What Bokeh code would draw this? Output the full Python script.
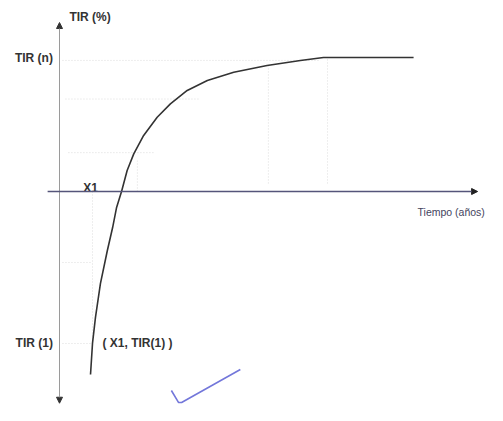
from bokeh.plotting import figure
from bokeh.models import Range1d, Arrow, NormalHead
from bokeh.core.properties import value
from bokeh.embed import file_html
from bokeh.resources import INLINE

# ---- data (years on x, TIR % on y; axes cross at 0) ----
X1 = 1.0
TIR_N = 10.0
TIR_1 = -11.34

curve_x = [0.94, 1.00, 1.09, 1.24, 1.45, 1.61, 1.73, 1.88, 2.05, 2.25, 2.55, 2.96, 3.36,
           3.87, 4.48, 5.28, 6.29, 7.30, 8.00, 10.73]
curve_y = [-13.66, -11.34, -9.40, -6.87, -4.40, -2.69, -1.19, 0.0, 1.57, 2.81, 4.18, 5.54, 6.54,
           7.54, 8.28, 8.90, 9.40, 9.78, 10.0, 10.0]

# faint dotted guide lines (x0, y0, x1, y1)
guide_x0 = [0.09, 0.18, 0.27, 0.09, 0.09, X1, 2.36, 6.33, 8.12]
guide_y0 = [9.78, 6.9, 2.9, -5.3, TIR_1, 0.0, 0.0, 0.6, 0.6]
guide_x1 = [7.91, 4.27, 2.85, X1, X1, X1, 2.36, 6.33, 8.12]
guide_y1 = [9.78, 6.9, 2.9, -5.3, TIR_1, TIR_1, 2.3, 9.5, 10.0]

# hand-drawn pen check mark near the bottom of the scan
check_x = [3.39, 3.61, 3.70, 5.48]
check_y = [-14.85, -15.75, -15.75, -13.28]

labels_left = ["TIR (n)", "TIR (1)"]
labels_left_y = [TIR_N, TIR_1]

p = figure(width=487, height=405, output_backend="svg", toolbar_location=None,
           x_range=Range1d(-1.788, 12.970), y_range=Range1d(-15.970, 14.254),
           min_border=0, x_axis_location=None, y_axis_location=None)
p.grid.visible = False
p.outline_line_color = None
p.background_fill_color = "white"

# guides
p.segment(x0=guide_x0, y0=guide_y0, x1=guide_x1, y1=guide_y1,
          line_color="#dcdcdc", line_width=1, line_dash="1 2")

# axes
p.add_layout(Arrow(start=NormalHead(size=6, fill_color="#333333", line_color="#333333"),
                   end=NormalHead(size=6, fill_color="#333333", line_color="#333333"),
                   x_start=0, y_start=-15.8, x_end=0, y_end=12.61,
                   line_color="#9a9a9a", line_width=1))
p.add_layout(Arrow(end=NormalHead(size=6, fill_color="#222222", line_color="#222222"),
                   x_start=-0.36, y_start=0, x_end=12.67, y_end=0,
                   line_color="#55557a", line_width=1.6))

# curve
p.line(curve_x, curve_y, line_color="#333333", line_width=1.6)

# check mark
p.line(check_x, check_y, line_color="#5a5fd4", line_width=1.6, line_alpha=0.85)

font = value("Liberation Sans")
p.text(x=[0.3], y=[12.99], text=["TIR (%)"], text_font=font, text_font_size="12px",
       text_font_style="bold", text_color="#333333", text_baseline="middle", text_align="left")
p.text(x=[-0.2, -0.2], y=labels_left_y, text=labels_left, text_font=font, text_font_size="12px",
       text_font_style="bold", text_color="#333333", text_baseline="middle", text_align="right")
p.text(x=[X1 - 0.06], y=[0], y_offset=-4, text=["X1"], text_font=font, text_font_size="12px",
       text_font_style="bold", text_color="#333333", text_baseline="alphabetic", text_align="center")
p.text(x=[X1], y=[TIR_1], x_offset=10, text=["( X1, TIR(1) )"], text_font=font,
       text_font_size="12px", text_font_style="bold", text_color="#333333",
       text_baseline="middle", text_align="left")
p.text(x=[10.85], y=[0], y_offset=20, text=["Tiempo (años)"], text_font=font,
       text_font_size="10.5px", text_color="#44445e", text_baseline="middle", text_align="left")

open("out.html", "w").write(file_html(p, INLINE))
